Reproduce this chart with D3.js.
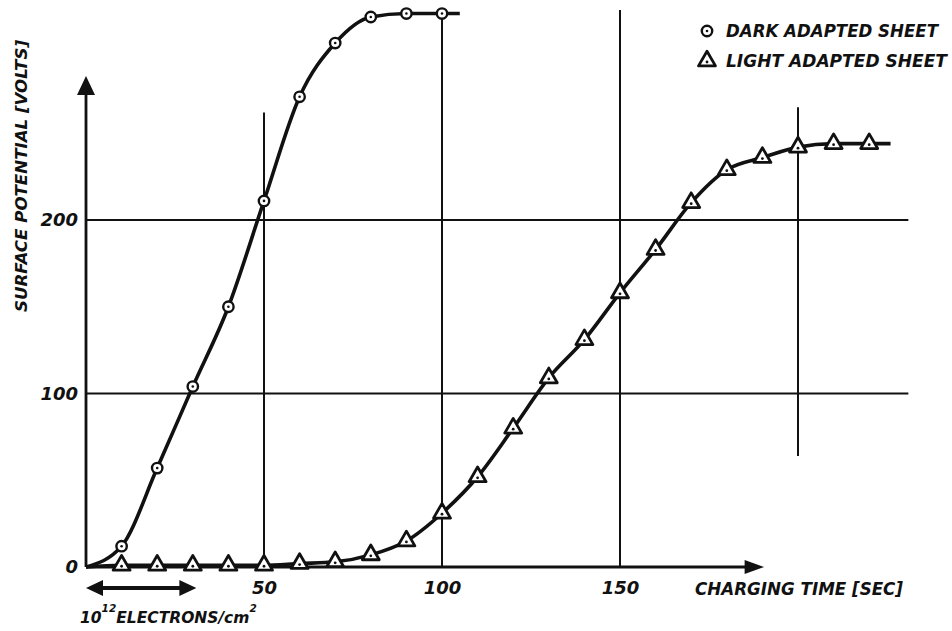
<!DOCTYPE html>
<html>
<head>
<meta charset="utf-8">
<script src="https://cdn.jsdelivr.net/npm/d3@7"></script>
<style>
    body { margin: 0; background: #fff; }
    text { font-family: "DejaVu Sans", "Liberation Sans", sans-serif; font-weight: bold; font-style: italic; fill: #111; }
</style>
</head>
<body>
<script>
// charging time (sec) and surface potential (volts)
var darkTime = [10, 20, 30, 40, 50, 60, 70, 80, 90, 100];
var darkVolts = [12, 57, 104, 150, 211, 271, 302, 317, 319, 319];
var lightTime = [10, 20, 30, 40, 50, 60, 70, 80, 90, 100, 110, 120, 130, 140, 150, 160, 170, 180, 190, 200, 210, 220];
var lightVolts = [1, 1, 1, 1, 1, 2, 3, 7, 15, 31, 52, 80, 109, 131, 158, 183, 210, 229, 236, 242, 244, 244];
// where the hand drawn curves begin and end
var darkEnds = [[0, 0], [105, 319]];
var lightEnds = [[0, 0], [226, 244]];

var xTicks = [50, 100, 150];
var yTicks = [0, 100, 200];
var legendNames = ["DARK ADAPTED SHEET", "LIGHT ADAPTED SHEET"];

var width = 952;
var height = 631;

var svg = d3.select("body")
    .append("svg")
    .attr("width", width)
    .attr("height", height);

var x = d3.scaleLinear().domain([0, 200]).range([86, 798]);
var y = d3.scaleLinear().domain([0, 200]).range([567, 220]);

// grid lines, drawn the way the original was ruled (not all full length)
var hGrid = [[100, 0, 231], [200, 0, 231]];
var vGrid = [[50, 0, 262], [100, 0, 321], [150, 0, 321], [200, 64, 265]];

svg.selectAll(".hgrid")
    .data(hGrid)
    .enter()
    .append("line")
    .attr("class", "hgrid")
    .attr("x1", d => x(d[1]))
    .attr("x2", d => x(d[2]))
    .attr("y1", d => y(d[0]))
    .attr("y2", d => y(d[0]))
    .attr("stroke", "#111")
    .attr("stroke-width", 2);

svg.selectAll(".vgrid")
    .data(vGrid)
    .enter()
    .append("line")
    .attr("class", "vgrid")
    .attr("x1", d => x(d[0]))
    .attr("x2", d => x(d[0]))
    .attr("y1", d => y(d[1]))
    .attr("y2", d => y(d[2]))
    .attr("stroke", "#111")
    .attr("stroke-width", 2);

// axes with arrow heads
var x0 = x(0), y0 = y(0);
svg.append("line")
    .attr("x1", x0).attr("x2", x(186))
    .attr("y1", y0).attr("y2", y0)
    .attr("stroke", "#111").attr("stroke-width", 2.8);
svg.append("path")
    .attr("d", "M" + x(185) + "," + (y0 - 7) + "L" + x(190.5) + "," + y0 + "L" + x(185) + "," + (y0 + 7) + "Z")
    .attr("fill", "#111");

svg.append("line")
    .attr("x1", x0).attr("x2", x0)
    .attr("y1", y0).attr("y2", y(272))
    .attr("stroke", "#111").attr("stroke-width", 2.8);
svg.append("path")
    .attr("d", "M" + (x0 - 9) + "," + y(272) + "L" + x0 + "," + y(283) + "L" + (x0 + 9) + "," + y(272) + "Z")
    .attr("fill", "#111");

var xAxis = svg.append("g")
    .attr("transform", "translate(0," + y0 + ")")
    .call(d3.axisBottom(x).tickValues(xTicks).tickSize(0).tickPadding(14));
xAxis.select(".domain").remove();
xAxis.selectAll("text")
    .style("font-size", "18px")
    .style("font-family", "DejaVu Sans")
    .attr("fill", "#111");

var yAxis = svg.append("g")
    .attr("transform", "translate(" + x0 + ",0)")
    .call(d3.axisLeft(y).tickValues(yTicks).tickSize(0).tickPadding(8));
yAxis.select(".domain").remove();
yAxis.selectAll("text")
    .style("font-size", "18px")
    .style("font-family", "DejaVu Sans")
    .attr("fill", "#111");

// curves
var line = d3.line()
    .x(d => x(d[0]))
    .y(d => y(d[1]))
    .curve(d3.curveMonotoneX);

var darkPts = darkTime.map((t, i) => [t, darkVolts[i]]);
var lightPts = lightTime.map((t, i) => [t, lightVolts[i]]);

svg.append("path")
    .datum([darkEnds[0]].concat(darkPts, [darkEnds[1]]))
    .attr("d", line)
    .attr("fill", "none")
    .attr("stroke", "#111")
    .attr("stroke-width", 3.6);

svg.append("path")
    .datum([lightEnds[0]].concat(lightPts, [lightEnds[1]]))
    .attr("d", line)
    .attr("fill", "none")
    .attr("stroke", "#111")
    .attr("stroke-width", 3.6);

// markers
var tri = d3.symbol().type(d3.symbolTriangle).size(125);

function circleMark(g) {
    g.append("circle").attr("r", 5.2).attr("fill", "#fff").attr("stroke", "#111").attr("stroke-width", 2.4);
    g.append("circle").attr("r", 1.3).attr("fill", "#111");
}
function triMark(g) {
    g.append("path").attr("d", tri).attr("fill", "#fff").attr("stroke", "#111").attr("stroke-width", 2.8).attr("stroke-linejoin", "round");
    g.append("circle").attr("r", 1.4).attr("cy", 1).attr("fill", "#111");
}

svg.selectAll(".dark")
    .data(darkPts)
    .enter()
    .append("g")
    .attr("class", "dark")
    .attr("transform", d => "translate(" + x(d[0]) + "," + y(d[1]) + ")")
    .call(circleMark);

svg.selectAll(".light")
    .data(lightPts)
    .enter()
    .append("g")
    .attr("class", "light")
    .attr("transform", d => "translate(" + x(d[0]) + "," + y(d[1]) + ")")
    .call(triMark);

// legend
var legend = svg.append("g");
var lg1 = legend.append("g").attr("transform", "translate(707,31)");
circleMark(lg1);
var lg2 = legend.append("g").attr("transform", "translate(707,61)");
triMark(lg2);
legend.selectAll("text")
    .data(legendNames)
    .enter()
    .append("text")
    .attr("x", 726)
    .attr("y", (d, i) => 37 + i * 30)
    .attr("textLength", (d, i) => i == 0 ? 212 : 221)
    .attr("lengthAdjust", "spacingAndGlyphs")
    .style("font-size", "17px")
    .text(d => d);

// axis titles
svg.append("text")
    .attr("x", 695)
    .attr("y", 595)
    .attr("textLength", 208)
    .attr("lengthAdjust", "spacingAndGlyphs")
    .style("font-size", "17px")
    .text("CHARGING TIME [SEC]");

svg.append("text")
    .attr("transform", "translate(27,176) rotate(-90)")
    .attr("text-anchor", "middle")
    .attr("textLength", 272)
    .attr("lengthAdjust", "spacingAndGlyphs")
    .style("font-size", "16px")
    .text("SURFACE POTENTIAL [VOLTS]");

// scale bar: 10^12 electrons/cm2 equals about 31 sec of charging
var barEnd = 31;
var barY = 588;
svg.append("line")
    .attr("x1", x(0) + 12).attr("x2", x(barEnd) - 12)
    .attr("y1", barY).attr("y2", barY)
    .attr("stroke", "#111").attr("stroke-width", 4);
svg.append("path")
    .attr("d", "M" + x(0) + "," + barY + "L" + (x(0) + 17) + "," + (barY - 8) + "L" + (x(0) + 17) + "," + (barY + 8) + "Z"
        + "M" + x(barEnd) + "," + barY + "L" + (x(barEnd) - 17) + "," + (barY - 8) + "L" + (x(barEnd) - 17) + "," + (barY + 8) + "Z")
    .attr("fill", "#111");

var unit = svg.append("text")
    .attr("x", 80)
    .attr("y", 623)
    .style("font-size", "15.5px");
unit.append("tspan").text("10");
unit.append("tspan").attr("dy", -11).style("font-size", "10.5px").text("12");
unit.append("tspan").attr("dy", 11).text("ELECTRONS/cm");
unit.append("tspan").attr("dy", -11).style("font-size", "10.5px").text("2");
</script>
</body>
</html>
